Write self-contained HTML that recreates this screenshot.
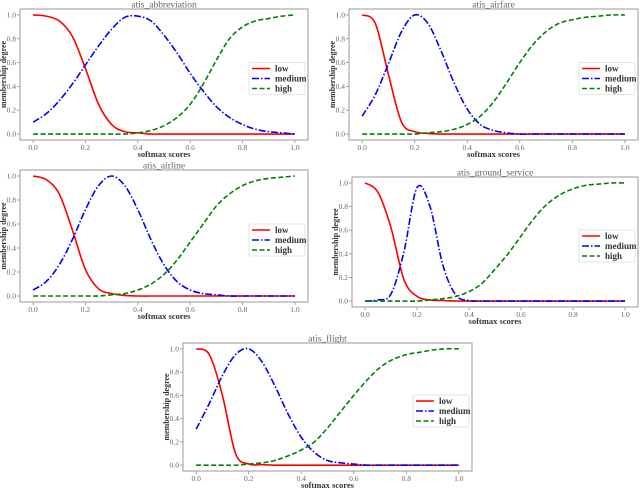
<!DOCTYPE html>
<html><head><meta charset="utf-8">
<style>
body{margin:0;background:#fff;}
svg{display:block;font-family:"Liberation Serif",serif;}
</style></head>
<body>
<svg id="fig" width="640" height="491" viewBox="0 0 640 491"></svg>
<script>
const xs = [0,0.05,0.1,0.15,0.2,0.25,0.3,0.35,0.4,0.45,0.5,0.55,0.6,0.65,0.7,0.75,0.8,0.85,0.9,0.95,1.0];
const titles = ["atis_abbreviation","atis_airfare","atis_airline","atis_ground_service","atis_flight"];
const lowVals = [
 [1.0,0.99,0.95,0.82,0.55,0.25,0.08,0.02,0.01,0,0,0,0,0,0,0,0,0,0,0,0],
 [1.0,0.93,0.5,0.1,0.02,0.005,0,0,0,0,0,0,0,0,0,0,0,0,0,0,0],
 [1.0,0.97,0.85,0.55,0.22,0.06,0.02,0.005,0,0,0,0,0,0,0,0,0,0,0,0,0],
 [1.0,0.92,0.62,0.18,0.04,0.01,0.005,0,0,0,0,0,0,0,0,0,0,0,0,0,0],
 [1.0,0.95,0.6,0.1,0.01,0.005,0,0,0,0,0,0,0,0,0,0,0,0,0,0,0]
];
const mediumVals = [
 [0.1,0.17,0.28,0.42,0.58,0.74,0.88,0.98,0.99,0.95,0.83,0.68,0.51,0.36,0.23,0.14,0.08,0.04,0.02,0.01,0],
 [0.15,0.33,0.59,0.86,1.0,0.93,0.70,0.43,0.21,0.08,0.03,0.01,0,0,0,0,0,0,0,0,0],
 [0.05,0.12,0.26,0.47,0.72,0.92,1.0,0.92,0.72,0.47,0.26,0.12,0.05,0.02,0.01,0,0,0,0,0,0],
 [0,0.01,0.06,0.42,0.96,0.8,0.3,0.05,0.005,0,0,0,0,0,0,0,0,0,0,0,0],
 [0.31,0.53,0.77,0.95,1.0,0.89,0.68,0.44,0.24,0.11,0.04,0.02,0.01,0,0,0,0,0,0,0,0]
];
const highVals = [
 [0,0,0,0,0,0,0,0,0.01,0.03,0.07,0.14,0.25,0.42,0.62,0.8,0.9,0.95,0.97,0.99,1.0],
 [0,0,0,0,0,0.01,0.02,0.04,0.08,0.15,0.27,0.43,0.6,0.75,0.86,0.93,0.96,0.98,0.99,1.0,1.0],
 [0,0,0,0,0,0,0.01,0.02,0.05,0.1,0.18,0.3,0.45,0.6,0.75,0.85,0.92,0.96,0.98,0.99,1.0],
 [0,0,0,0,0,0.01,0.02,0.04,0.08,0.15,0.27,0.4,0.55,0.7,0.82,0.9,0.95,0.98,0.99,1.0,1.0],
 [0,0,0,0,0.01,0.02,0.04,0.08,0.13,0.2,0.32,0.46,0.6,0.73,0.84,0.91,0.95,0.97,0.99,1.0,1.0]
];
const tickLabels = ["0.0","0.2","0.4","0.6","0.8","1.0"];
const tickValues = [0,0.2,0.4,0.6,0.8,1.0];

const panels = [
 {x:20,y:9,w:288,h:131},
 {x:349,y:9,w:289,h:131},
 {x:20,y:170,w:288,h:132},
 {x:352,y:177,w:286,h:130},
 {x:183,y:343,w:289,h:128}
];
const NS="http://www.w3.org/2000/svg";
const svg=document.getElementById('fig');
function mk(tag,attrs,parent){const e=document.createElementNS(NS,tag);for(const k in attrs)e.setAttribute(k,attrs[k]);(parent||svg).appendChild(e);return e;}
function smooth(pts){
 let d="M"+pts[0][0].toFixed(2)+","+pts[0][1].toFixed(2);
 for(let i=0;i<pts.length-1;i++){
  const p0=pts[Math.max(0,i-1)],p1=pts[i],p2=pts[i+1],p3=pts[Math.min(pts.length-1,i+2)];
  const c1=[p1[0]+(p2[0]-p0[0])/6,p1[1]+(p2[1]-p0[1])/6];
  const c2=[p2[0]-(p3[0]-p1[0])/6,p2[1]-(p3[1]-p1[1])/6];
  d+=" C"+c1[0].toFixed(2)+","+c1[1].toFixed(2)+" "+c2[0].toFixed(2)+","+c2[1].toFixed(2)+" "+p2[0].toFixed(2)+","+p2[1].toFixed(2);
 }
 return d;
}
const series=[
 {name:"low",vals:lowVals,color:"#ff0000",dash:"none"},
 {name:"medium",vals:mediumVals,color:"#0000ff",dash:"7,2,1.5,2"},
 {name:"high",vals:highVals,color:"#008000",dash:"5,2.5"}
];
panels.forEach((P,pi)=>{
 const g=mk('g',{});
 
 
 const sx=v=>P.x+(v+0.05)/1.1*P.w;
 const sy=v=>P.y+P.h-(v+0.05)/1.1*P.h;
 const t=mk('text',{x:P.x+P.w/2,y:P.y-1.5,'text-anchor':'middle','font-size':9.5,fill:'#666'},g);
 t.textContent=titles[pi];
 
 
 tickValues.forEach((tv,i)=>{
  const X=sx(tv),Y=sy(tv);
  mk('line',{x1:X,x2:X,y1:P.y+P.h,y2:P.y+P.h+3,stroke:'#888','stroke-width':0.8},g);
  const xl=mk('text',{x:X,y:P.y+P.h+10,'text-anchor':'middle','font-size':7.5,fill:'#666'},g);
  xl.textContent=tickLabels[i];
  
  
  mk('line',{x1:P.x-3,x2:P.x,y1:Y,y2:Y,stroke:'#888','stroke-width':0.8},g);
  const yl=mk('text',{x:P.x-4,y:Y+2.5,'text-anchor':'end','font-size':7.5,fill:'#666'},g);
  yl.textContent=tickLabels[i];
  
  
 });
 const xt=mk('text',{x:P.x+P.w/2,y:P.y+P.h+17,'text-anchor':'middle','font-size':8.5,'font-weight':'bold',fill:'#333'},g);
 xt.textContent="softmax scores";
 
 
 const yx=P.x-14, yy=P.y+P.h/2;
 const yt=mk('text',{x:yx,y:yy,'text-anchor':'middle','font-size':8,'font-weight':'bold',fill:'#333',transform:`rotate(-90 ${yx} ${yy})`},g);
 yt.textContent="membership degree";
 
 
 series.forEach(s=>{
  const pts=xs.map((x,i)=>[sx(x),sy(s.vals[pi][i])]);
  const p=mk('path',{d:smooth(pts),fill:'none',stroke:s.color,'stroke-width':1.6,'stroke-dasharray':s.dash},g);
  
  
 });
 const fr=mk('rect',{x:P.x,y:P.y,width:P.w,height:P.h,fill:'none',stroke:'#999','stroke-width':1},g);
 
 
 const lw=56,lh=32,lx=P.x+P.w-lw-3,ly=P.y+P.h/2-lh/2+4;
 const lg=mk('g',{},g);
 
 
 mk('rect',{x:lx,y:ly,width:lw,height:lh,fill:'#fff',stroke:'#ddd','stroke-width':0.8,rx:1.5},lg);
 series.forEach((s,i)=>{
  const Y=ly+6+i*10;
  const e=mk('g',{},lg);
  
  
  mk('line',{x1:lx+3,x2:lx+21,y1:Y,y2:Y,stroke:s.color,'stroke-width':1.6,'stroke-dasharray':s.dash},e);
  const tx=mk('text',{x:lx+26,y:Y+3,'font-size':9,'font-weight':'bold',fill:'#333'},e);
  tx.textContent=s.name;
 });
});
</script>
</body></html>
